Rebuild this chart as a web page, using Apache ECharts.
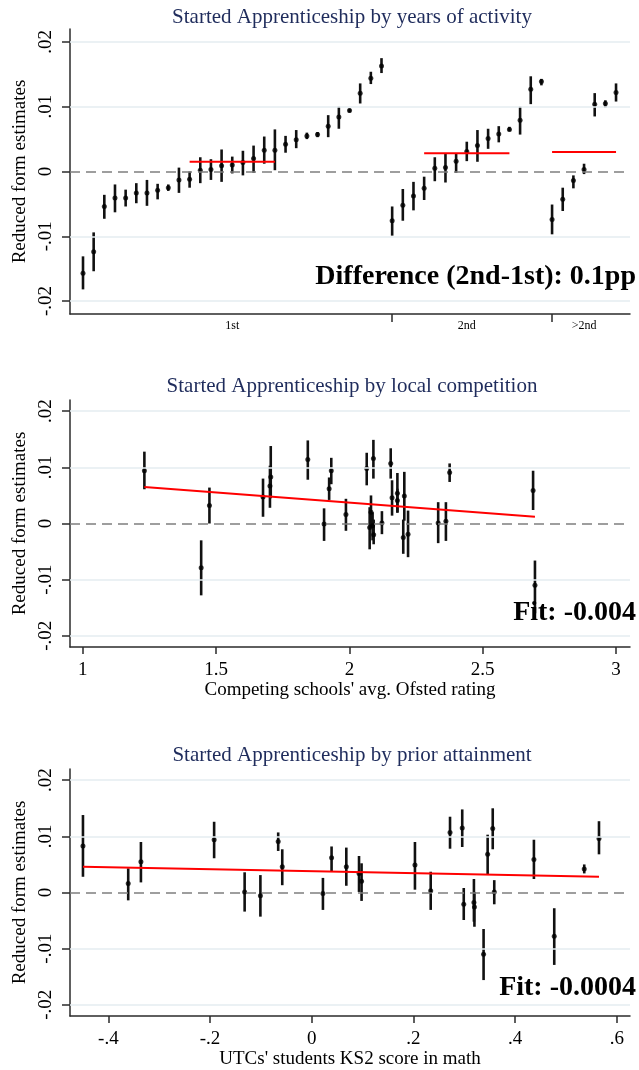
<!DOCTYPE html>
<html>
<head>
<meta charset="utf-8">
<script src="https://cdn.jsdelivr.net/npm/echarts@6/dist/echarts.min.js"></script>
<style>
html,body{margin:0;padding:0;background:#fff;}
#chart{width:639px;height:1070px;}
</style>
</head>
<body>
<div id="chart"></div>
<script>
// ---------- Panel 1: by years of activity (rank order within group) ----------
const yearsGroups = ["1st", "2nd", ">2nd"];
const yearsGroupStart = [1, 30, 45];
const yearsGroupCenter = [15, 37, 48];
const yearsEst = [
  -0.0157, -0.0124, -0.0054, -0.0041, -0.0041, -0.0033, -0.0033, -0.0029, -0.0025, -0.0013,
  -0.0012, 0.0002, 0.0003, 0.0009, 0.0010, 0.0014, 0.0020, 0.0033, 0.0033, 0.0042,
  0.0049, 0.0055, 0.0057, 0.0070, 0.0084, 0.0094, 0.0121, 0.0144, 0.0163,
  -0.0076, -0.0052, -0.0038, -0.0026, 0.0005, 0.0006, 0.0016, 0.0031, 0.0040, 0.0051,
  0.0058, 0.0065, 0.0079, 0.0127, 0.0139,
  -0.0074, -0.0043, -0.0014, 0.0003, 0.0104, 0.0105, 0.0122
];
const yearsLo = [
  -0.0182, -0.0154, -0.0073, -0.0063, -0.0054, -0.0049, -0.0053, -0.0043, -0.0030, -0.0033,
  -0.0025, -0.0018, -0.0013, -0.0016, -0.0003, -0.0006, -0.0002, 0.0012, 0.0002, 0.0029,
  0.0036, 0.0050, 0.0053, 0.0053, 0.0066, 0.0091, 0.0105, 0.0135, 0.0152,
  -0.0099, -0.0076, -0.0060, -0.0044, -0.0015, -0.0017, -0.0002, 0.0016, 0.0015, 0.0035,
  0.0045, 0.0062, 0.0057, 0.0104, 0.0133,
  -0.0097, -0.0061, -0.0026, -0.0004, 0.0085, 0.0099, 0.0108
];
const yearsHi = [
  -0.0131, -0.0094, -0.0036, -0.0020, -0.0028, -0.0018, -0.0013, -0.0019, -0.0020, 0.0006,
  0.0000, 0.0022, 0.0019, 0.0034, 0.0023, 0.0032, 0.0040, 0.0054, 0.0065, 0.0055,
  0.0064, 0.0060, 0.0061, 0.0087, 0.0100, 0.0097, 0.0136, 0.0154, 0.0175,
  -0.0054, -0.0027, -0.0016, -0.0008, 0.0022, 0.0027, 0.0027, 0.0046, 0.0064, 0.0066,
  0.0070, 0.0069, 0.0100, 0.0147, 0.0143,
  -0.0051, -0.0025, -0.0006, 0.0012, 0.0121, 0.0110, 0.0136
];
const yearsMean = [0.0015, 0.0028, 0.0030];
const yearsMeanFrom = [11, 33, 45];
const yearsMeanTo = [19, 41, 51];

// ---------- Panel 2: by local competition ----------
const compX = [1.231, 1.444, 1.475, 1.676, 1.702, 1.705, 1.844, 1.905, 1.924, 1.932,
  1.987, 2.065, 2.090, 2.081, 2.076, 2.087, 2.091, 2.122, 2.155, 2.160,
  2.180, 2.180, 2.206, 2.202, 2.220, 2.333, 2.362, 2.376, 2.689, 2.696];
const compEst = [0.0094, -0.0079, 0.0032, 0.0047, 0.0067, 0.0083, 0.0114, -0.0001, 0.0062, 0.0094,
  0.0016, 0.0098, 0.0116, 0.0020, -0.0007, -0.0004, -0.0020, 0.0001, 0.0107, 0.0046,
  0.0054, 0.0041, 0.0049, -0.0025, -0.0019, 0.0001, 0.0004, 0.0091, 0.0059, -0.0110];
const compLo = [0.0061, -0.0128, 0.0000, 0.0012, 0.0028, 0.0045, 0.0078, -0.0031, 0.0042, 0.0070,
  -0.0013, 0.0068, 0.0080, -0.0007, -0.0046, -0.0030, -0.0037, -0.0019, 0.0080, 0.0014,
  0.0019, 0.0020, 0.0005, -0.0054, -0.0060, -0.0035, -0.0031, 0.0074, 0.0024, -0.0160];
const compHi = [0.0128, -0.0030, 0.0064, 0.0080, 0.0103, 0.0138, 0.0148, 0.0027, 0.0082, 0.0117,
  0.0044, 0.0126, 0.0149, 0.0050, 0.0029, 0.0020, 0.0007, 0.0022, 0.0134, 0.0077,
  0.0090, 0.0062, 0.0092, 0.0007, 0.0023, 0.0038, 0.0038, 0.0107, 0.0094, -0.0066];
const compFitX = [1.231, 2.696];
const compFitY = [0.0065, 0.0012];
const compTicks = [1, 1.5, 2, 2.5, 3];
const compTickLabels = ["1", "1.5", "2", "2.5", "3"];

// ---------- Panel 3: by prior attainment ----------
const ks2X = [-0.450, -0.361, -0.336, -0.192, -0.132, -0.101, -0.066, -0.058, 0.022, 0.039,
  0.068, 0.093, 0.098, 0.203, 0.234, 0.272, 0.296, 0.299, 0.319, 0.320,
  0.338, 0.346, 0.356, 0.359, 0.437, 0.477, 0.536, 0.565];
const ks2Est = [0.0083, 0.0016, 0.0055, 0.0094, 0.0001, -0.0006, 0.0091, 0.0046, -0.0002, 0.0062,
  0.0046, 0.0034, 0.0020, 0.0049, 0.0003, 0.0107, 0.0115, -0.0021, -0.0018, -0.0026,
  -0.0110, 0.0068, 0.0114, 0.0001, 0.0059, -0.0078, 0.0042, 0.0096];
const ks2Lo = [0.0028, -0.0014, 0.0018, 0.0061, -0.0034, -0.0043, 0.0074, 0.0013, -0.0031, 0.0038,
  0.0012, 0.0001, -0.0015, 0.0005, -0.0031, 0.0078, 0.0081, -0.0049, -0.0052, -0.0061,
  -0.0156, 0.0032, 0.0077, -0.0021, 0.0024, -0.0129, 0.0034, 0.0068];
const ks2Hi = [0.0138, 0.0043, 0.0090, 0.0126, 0.0036, 0.0031, 0.0107, 0.0077, 0.0026, 0.0082,
  0.0080, 0.0065, 0.0052, 0.0090, 0.0037, 0.0135, 0.0148, 0.0008, 0.0024, 0.0001,
  -0.0065, 0.0103, 0.0150, 0.0022, 0.0094, -0.0028, 0.0050, 0.0127];
const ks2FitX = [-0.450, 0.565];
const ks2FitY = [0.0046, 0.0028];
const ks2Ticks = [-0.4, -0.2, 0, 0.2, 0.4, 0.6];
const ks2TickLabels = ["-.4", "-.2", "0", ".2", ".4", ".6"];

// ---------- shared y axis ----------
const yTicks = [-0.02, -0.01, 0, 0.01, 0.02];
const yTickLabels = ["-.02", "-.01", "0", ".01", ".02"];

const titles = [
  "Started Apprenticeship by years of activity",
  "Started Apprenticeship by local competition",
  "Started Apprenticeship by prior attainment"
];
const notes = ["Difference (2nd-1st): 0.1pp", "Fit: -0.004", "Fit: -0.0004"];
const xNames = ["", "Competing schools' avg. Ofsted rating", "UTCs' students KS2 score in math"];

// ---------- build ----------
const SERIF = '"Liberation Serif", "DejaVu Serif", serif';
const grids = [
  {left: 70, width: 560, top: 29, height: 285},
  {left: 70, width: 560, top: 400, height: 247},
  {left: 70, width: 560, top: 769, height: 247}
];
const titleY = [17, 386, 755];
const noteY = [277, 613, 988];

function labelFor(vals, labs) {
  return function (v) {
    for (let i = 0; i < vals.length; i++) if (Math.abs(v - vals[i]) < 1e-9) return labs[i];
    return '';
  };
}

const axisLineStyle = {color: '#2b2b2b', width: 1.5};

const yAxes = grids.map((g, k) => ({
  gridIndex: k, type: 'value', min: -0.022, max: 0.022,
  name: 'Reduced form estimates', nameLocation: 'middle', nameGap: 40, nameRotate: 90,
  nameTextStyle: {fontFamily: SERIF, fontSize: 19, color: '#000'},
  axisLine: {show: true, onZero: false, lineStyle: axisLineStyle},
  axisTick: {show: true, length: 8, lineStyle: axisLineStyle, customValues: yTicks},
  axisLabel: {show: true, rotate: 90, margin: 14, fontFamily: SERIF, fontSize: 19, color: '#000',
    customValues: yTicks, formatter: labelFor(yTicks, yTickLabels)},
  splitLine: {show: false}
}));

const xAxes = [
  {gridIndex: 0, type: 'value', min: -0.22, max: 52.31,
    axisLine: {show: true, onZero: false, lineStyle: axisLineStyle},
    axisTick: {show: true, length: 8, lineStyle: axisLineStyle, customValues: yearsGroupStart.slice(1)},
    axisLabel: {show: true, margin: 6, fontFamily: SERIF, fontSize: 12, color: '#000',
      customValues: yearsGroupCenter, formatter: labelFor(yearsGroupCenter, yearsGroups)},
    splitLine: {show: false}},
  {gridIndex: 1, type: 'value', min: 0.952, max: 3.0525,
    name: xNames[1], nameLocation: 'middle', nameGap: 34,
    nameTextStyle: {fontFamily: SERIF, fontSize: 19, color: '#000'},
    axisLine: {show: true, onZero: false, lineStyle: axisLineStyle},
    axisTick: {show: true, length: 7, lineStyle: axisLineStyle, customValues: compTicks},
    axisLabel: {show: true, margin: 14, fontFamily: SERIF, fontSize: 19, color: '#000',
      customValues: compTicks, formatter: labelFor(compTicks, compTickLabels)},
    splitLine: {show: false}},
  {gridIndex: 2, type: 'value', min: -0.4755, max: 0.626,
    name: xNames[2], nameLocation: 'middle', nameGap: 32,
    nameTextStyle: {fontFamily: SERIF, fontSize: 19, color: '#000'},
    axisLine: {show: true, onZero: false, lineStyle: axisLineStyle},
    axisTick: {show: true, length: 7, lineStyle: axisLineStyle, customValues: ks2Ticks},
    axisLabel: {show: true, margin: 14, fontFamily: SERIF, fontSize: 19, color: '#000',
      customValues: ks2Ticks, formatter: labelFor(ks2Ticks, ks2TickLabels)},
    splitLine: {show: false}}
];

function errorBarRender(params, api) {
  const x = api.value(0), lo = api.value(1), hi = api.value(2);
  const p1 = api.coord([x, lo]);
  const p2 = api.coord([x, hi]);
  return {type: 'line', shape: {x1: p1[0], y1: p1[1], x2: p2[0], y2: p2[1]},
    style: {stroke: '#111', lineWidth: 2.6}};
}

const series = [];
const panels = [
  {x: yearsEst.map((_, i) => i + 1), est: yearsEst, lo: yearsLo, hi: yearsHi},
  {x: compX, est: compEst, lo: compLo, hi: compHi},
  {x: ks2X, est: ks2Est, lo: ks2Lo, hi: ks2Hi}
];

panels.forEach((p, k) => {
  // gridlines + zero line
  series.push({
    type: 'line', xAxisIndex: k, yAxisIndex: k, data: [], z: 1, silent: true,
    markLine: {
      silent: true, symbol: 'none', animation: false,
      label: {show: false},
      data: yTicks.map(v => v === 0
        ? {yAxis: v, lineStyle: {color: '#7f7f7f', width: 1.6, type: [10, 6]}}
        : {yAxis: v, lineStyle: {color: '#e4edf0', width: 1.6, type: 'solid'}})
    }
  });
  series.push({
    type: 'custom', xAxisIndex: k, yAxisIndex: k, z: 3, silent: true,
    renderItem: errorBarRender,
    encode: {x: 0, y: [1, 2]},
    data: p.x.map((x, i) => [x, p.lo[i], p.hi[i]])
  });
  series.push({
    type: 'scatter', xAxisIndex: k, yAxisIndex: k, z: 4, silent: true,
    symbol: 'circle', symbolSize: 5,
    itemStyle: {color: '#000'},
    data: p.x.map((x, i) => [x, p.est[i]])
  });
});

// red group mean lines (panel 1)
yearsMean.forEach((m, g) => {
  series.push({
    type: 'line', xAxisIndex: 0, yAxisIndex: 0, z: 5, silent: true, symbol: 'none',
    lineStyle: {color: '#ff0000', width: 2},
    data: [[yearsMeanFrom[g], m], [yearsMeanTo[g], m]]
  });
});
// fit lines
series.push({
  type: 'line', xAxisIndex: 1, yAxisIndex: 1, z: 5, silent: true, symbol: 'none',
  lineStyle: {color: '#ff0000', width: 2},
  data: compFitX.map((x, i) => [x, compFitY[i]])
});
series.push({
  type: 'line', xAxisIndex: 2, yAxisIndex: 2, z: 5, silent: true, symbol: 'none',
  lineStyle: {color: '#ff0000', width: 2},
  data: ks2FitX.map((x, i) => [x, ks2FitY[i]])
});

const graphic = [];
titles.forEach((t, k) => {
  graphic.push({type: 'text', x: 352, y: titleY[k], z: 10,
    style: {text: t, font: '21px ' + SERIF, fill: '#1f2c5c', align: 'center', verticalAlign: 'middle'}});
  graphic.push({type: 'text', x: 636, y: noteY[k], z: 10,
    style: {text: notes[k], font: 'bold 28px ' + SERIF, fill: '#000', align: 'right', verticalAlign: 'middle'}});
});

const chart = echarts.init(document.getElementById('chart'), null, {renderer: 'canvas'});
chart.setOption({
  animation: false,
  backgroundColor: '#ffffff',
  grid: grids,
  xAxis: xAxes,
  yAxis: yAxes,
  series: series,
  graphic: graphic
});
</script>
</body>
</html>
